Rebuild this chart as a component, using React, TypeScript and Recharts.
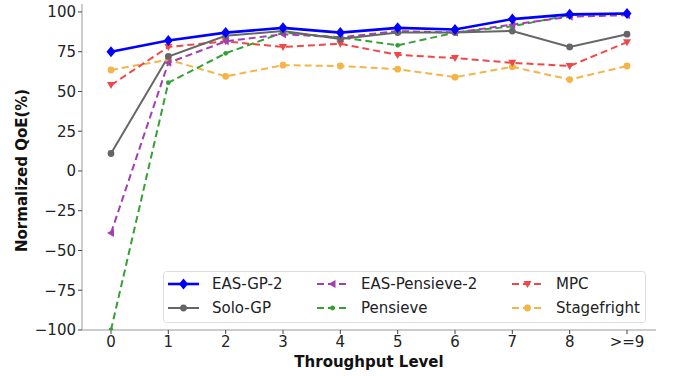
import React from 'react';
import { LineChart, Line, XAxis, YAxis, Legend } from 'recharts';

const levels = ['0', '1', '2', '3', '4', '5', '6', '7', '8', '>=9'];
const easGp2 = [75, 82, 87, 90, 87, 90, 89, 95.5, 98.5, 99];
const soloGp = [11, 72, 85, 88, 83, 87, 87, 88, 78, 86];
const easPensieve2 = [-39, 68, 81.5, 86, 84, 88, 87, 92, 97, 98];
const pensieve = [-100, 55.5, 74, 87, 84, 79, 87, 91, 98, 99];
const mpc = [54, 78, 81.5, 78, 80, 73, 71, 68, 66, 81];
const stagefright = [63.5, 70, 59.5, 66.5, 66, 64, 59, 65.5, 57.5, 66];
const yTicks = [-100, -75, -50, -25, 0, 25, 50, 75, 100];

const FONT = '"DejaVu Sans", sans-serif';

type Marker = 'diamond' | 'circle' | 'left' | 'dot' | 'down';

const SERIES: { key: string; name: string; values: number[]; color: string; dashed: boolean; width: number; marker: Marker }[] = [
  { key: 'easGp2', name: 'EAS-GP-2', values: easGp2, color: '#0000ff', dashed: false, width: 2.6, marker: 'diamond' },
  { key: 'soloGp', name: 'Solo-GP', values: soloGp, color: '#666666', dashed: false, width: 2, marker: 'circle' },
  { key: 'easPensieve2', name: 'EAS-Pensieve-2', values: easPensieve2, color: '#a23db2', dashed: true, width: 2, marker: 'left' },
  { key: 'pensieve', name: 'Pensieve', values: pensieve, color: '#35a035', dashed: true, width: 2, marker: 'dot' },
  { key: 'mpc', name: 'MPC', values: mpc, color: '#f04848', dashed: true, width: 2, marker: 'down' },
  { key: 'stagefright', name: 'Stagefright', values: stagefright, color: '#f5b447', dashed: true, width: 2, marker: 'circle' },
];

const data = levels.map((level, i) => {
  const row: Record<string, string | number> = { level };
  SERIES.forEach((s) => {
    row[s.key] = s.values[i];
  });
  return row;
});

function drawMarker(marker: Marker, cx: number, cy: number, color: string, key?: string) {
  switch (marker) {
    case 'diamond':
      return <polygon key={key} points={`${cx},${cy - 5.5} ${cx + 4.5},${cy} ${cx},${cy + 5.5} ${cx - 4.5},${cy}`} fill={color} />;
    case 'left':
      return <polygon key={key} points={`${cx - 4},${cy} ${cx + 3},${cy - 4} ${cx + 3},${cy + 4}`} fill={color} />;
    case 'down':
      return <polygon key={key} points={`${cx - 4},${cy - 3} ${cx + 4},${cy - 3} ${cx},${cy + 4}`} fill={color} />;
    case 'dot':
      return <circle key={key} cx={cx} cy={cy} r={2.4} fill={color} />;
    default:
      return <circle key={key} cx={cx} cy={cy} r={3.4} fill={color} />;
  }
}

const makeDot = (marker: Marker, color: string) => (props: any) => {
  const { cx, cy, index } = props;
  if (cx == null || cy == null) return <g key={index} />;
  return drawMarker(marker, cx, cy, color, `m-${index}`);
};

const LegendBox = () => {
  const cols = [5, 154, 349];
  const rows = [13, 37];
  return (
    <svg width={483} height={52} style={{ display: 'block' }}>
      <rect x={0.5} y={0.5} width={482} height={51} rx={3} fill="#ffffff" fillOpacity={0.85} stroke="#dddddd" />
      {SERIES.map((s, i) => {
        const x = cols[Math.floor(i / 2)];
        const y = rows[i % 2];
        return (
          <g key={s.key}>
            <line x1={x} x2={x + 31} y1={y} y2={y} stroke={s.color} strokeWidth={s.width} strokeDasharray={s.dashed ? '7 4' : undefined} />
            {drawMarker(s.marker, x + 15.5, y, s.color)}
            <text x={x + 44} y={y} dy="0.36em" fontSize={15} fontFamily={FONT} fill="#222">
              {s.name}
            </text>
          </g>
        );
      })}
    </svg>
  );
};

export default function App() {
  return (
    <div style={{ position: 'absolute', left: 0, top: 0, width: 673, height: 376, background: '#fff' }}>
      <LineChart width={673} height={376} data={data} margin={{ top: 4, right: 17, bottom: 0, left: 0 }}>
        <XAxis
          dataKey="level"
          type="category"
          padding={{ left: 29, right: 29 }}
          height={46}
          interval={0}
          tickSize={4}
          tickLine={{ stroke: '#444' }}
          axisLine={{ stroke: '#bbbbbb', strokeWidth: 1.5 }}
          tick={{ fontSize: 15, fontFamily: FONT, fill: '#222' }}
          label={{ value: 'Throughput Level', position: 'insideBottom', offset: 9, fontSize: 15, fontWeight: 'bold', fontFamily: FONT, fill: '#111' }}
        />
        <XAxis xAxisId="top" orientation="top" dataKey="level" height={0} tick={false} tickLine={false} axisLine={{ stroke: '#bbbbbb', strokeWidth: 1.5 }} />
        <YAxis
          domain={[-100, 105]}
          ticks={yTicks}
          width={82}
          tickSize={4}
          tickLine={{ stroke: '#444' }}
          axisLine={{ stroke: '#bbbbbb', strokeWidth: 1.5 }}
          allowDataOverflow
          tickFormatter={(v: number) => String(v).replace('-', '\u2212')}
          tick={{ fontSize: 15, fontFamily: FONT, fill: '#222' }}
          label={{ value: 'Normalized QoE(%)', angle: -90, position: 'insideLeft', offset: 22, dy: 85, fontSize: 15, fontWeight: 'bold', fontFamily: FONT, fill: '#111' }}
        />
        <YAxis yAxisId="right" orientation="right" width={0} domain={[-100, 105]} tick={false} tickLine={false} axisLine={{ stroke: '#bbbbbb', strokeWidth: 1.5 }} />
        {SERIES.slice().reverse().map((s) => (
          <Line
            key={s.key}
            type="linear"
            dataKey={s.key}
            name={s.name}
            stroke={s.color}
            strokeWidth={s.width}
            strokeDasharray={s.dashed ? '7 4' : undefined}
            dot={makeDot(s.marker, s.color)}
            activeDot={false}
            isAnimationActive={false}
          />
        ))}
        <Legend
          layout="horizontal"
          verticalAlign="middle"
          align="center"
          content={() => <LegendBox />}
          wrapperStyle={{ position: 'absolute', left: 163, top: 271, width: 483, height: 52 }}
        />
      </LineChart>
    </div>
  );
}
